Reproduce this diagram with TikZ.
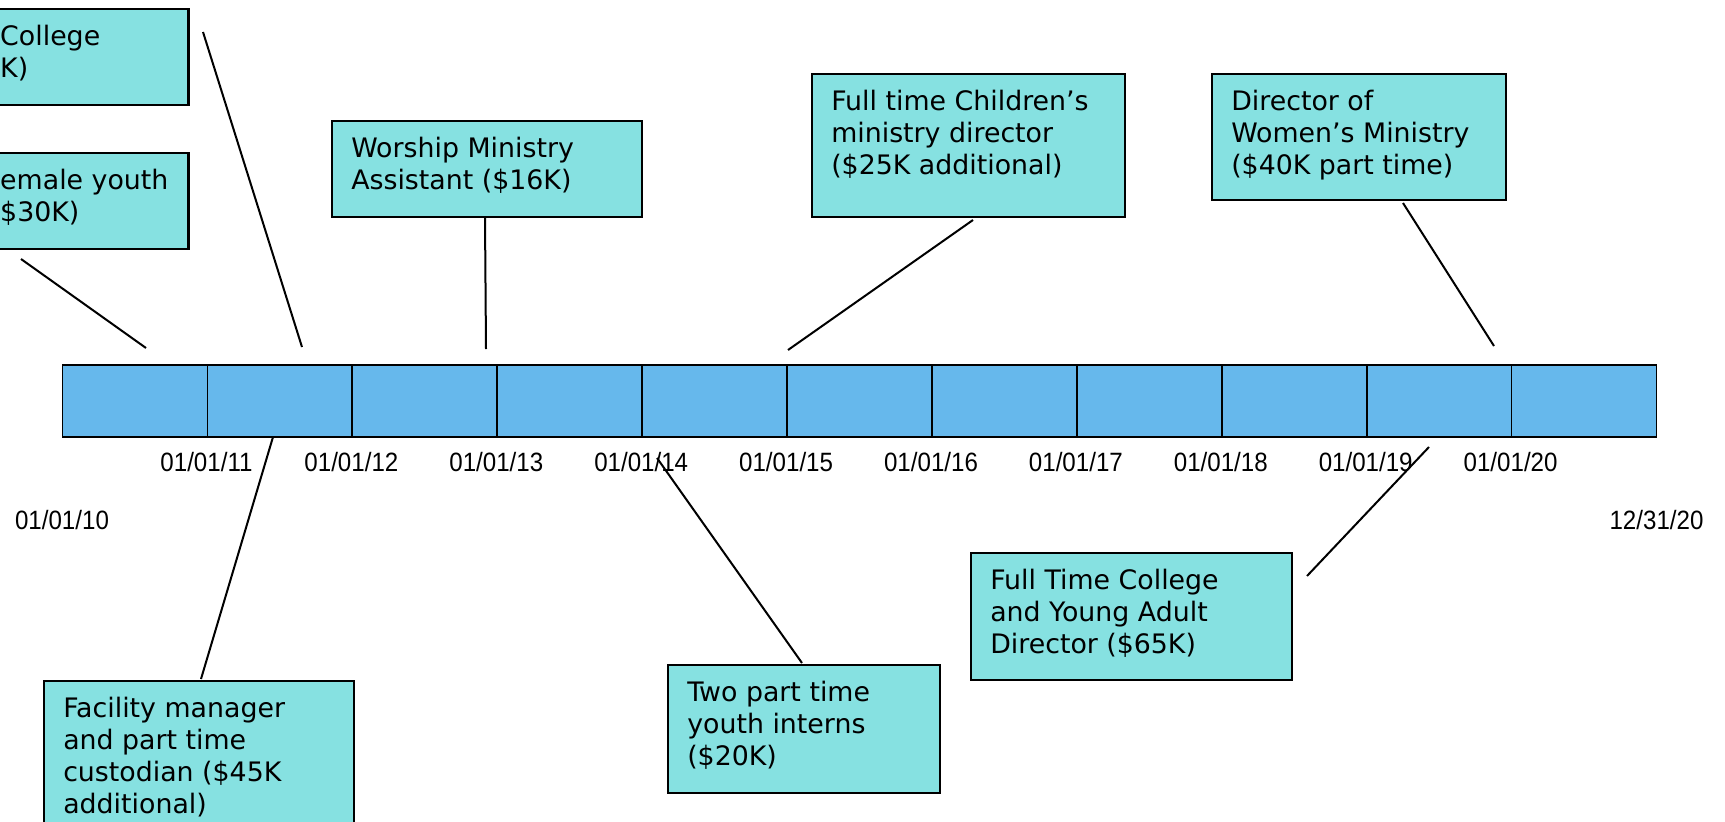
\documentclass[tikz,border=0pt]{standalone}
\usepackage{fontspec}
\newfontfamily\boxfont{DejaVu Sans}
\newfontfamily\datefont[FakeStretch=0.91]{Liberation Sans}
\definecolor{barblue}{HTML}{66B8EC}
\definecolor{boxcyan}{HTML}{86E1E1}
\newcommand\bt[4]{\parbox[b][#2pt][t]{#1pt}{\raggedright\leftskip=#3pt\relax\vspace*{14.6pt}\strut#4}}
\begin{document}
\begin{tikzpicture}[x=1pt,y=-1pt,
  seg/.style={draw=black,line width=1.8pt,fill=barblue,anchor=north west,inner sep=0pt,minimum width=144.9pt,minimum height=72pt},
  infobox/.style={draw=black,line width=2.5pt,fill=boxcyan,anchor=north west,inner sep=0pt,font=\boxfont\fontsize{26.8pt}{32pt}\selectfont},
  datelabel/.style={anchor=base,inner sep=0pt,font=\datefont\fontsize{26.5pt}{30pt}\selectfont},
  conn/.style={draw=black,line width=2pt}]
\useasboundingbox (0,0) rectangle (1725,822);
\fill[white] (0,0) rectangle (1725,822);
% timeline bar
\foreach \i in {0,...,10}{
  \node[seg] (s\i) at ({61.6+144.9*\i},364) {};
}
\foreach \i in {1,...,10}{
  \pgfmathtruncatemacro\yr{10+\i}
  \node[datelabel] (d\i) at ({61.6+144.9*\i},471) {01/01/\yr};
}
\node[datelabel] (dstart) at (62,529) {01/01/10};
\node[datelabel] (dend) at (1656.5,529) {12/31/20};
% boxes
\node[infobox] (college) at (-60,7.5) {\bt{247}{96}{59}{College\\K)}};
\node[infobox] (female) at (-60,151.5) {\bt{247}{96}{59}{emale youth\\\$30K)}};
\node[infobox] (worship) at (330.5,119.5) {\bt{310}{96}{19.5}{Worship Ministry\\Assistant (\$16K)}};
\node[infobox] (children) at (810.5,72.5) {\bt{313}{143}{19.5}{Full time Children’s\\ministry director\\(\$25K additional)}};
\node[infobox] (women) at (1210.5,72.5) {\bt{294}{126}{19.5}{Director of\\Women’s Ministry\\(\$40K part time)}};
\node[infobox] (facility) at (42.5,679.5) {\bt{310}{165}{19.5}{Facility manager\\and part time\\custodian (\$45K\\additional)}};
\node[infobox] (interns) at (666.5,663.5) {\bt{272}{128}{19.5}{Two part time\\youth interns\\(\$20K)}};
\node[infobox] (ftcollege) at (969.5,551.5) {\bt{321}{127}{19.5}{Full Time College\\and Young Adult\\Director (\$65K)}};
% connector end points
\coordinate (fa) at (21,259);   \coordinate (fb) at (146,348);
\coordinate (ca) at (203,32);   \coordinate (cb) at (302,347);
\coordinate (wa) at (485,218);  \coordinate (wb) at (486,349);
\coordinate (cha) at (973,220); \coordinate (chb) at (788,350);
\coordinate (woa) at (1403,203); \coordinate (wob) at (1494,346);
\coordinate (faa) at (273,437); \coordinate (fab) at (201,679);
\coordinate (ia) at (657,458);  \coordinate (ib) at (802,663);
\coordinate (ha) at (1429,447); \coordinate (hb) at (1307,576);
\draw[conn] (fa) -- (fb);
\draw[conn] (ca) -- (cb);
\draw[conn] (wa) -- (wb);
\draw[conn] (cha) -- (chb);
\draw[conn] (woa) -- (wob);
\draw[conn] (faa) -- (fab);
\draw[conn] (ia) -- (ib);
\draw[conn] (ha) -- (hb);
\end{tikzpicture}
\end{document}
